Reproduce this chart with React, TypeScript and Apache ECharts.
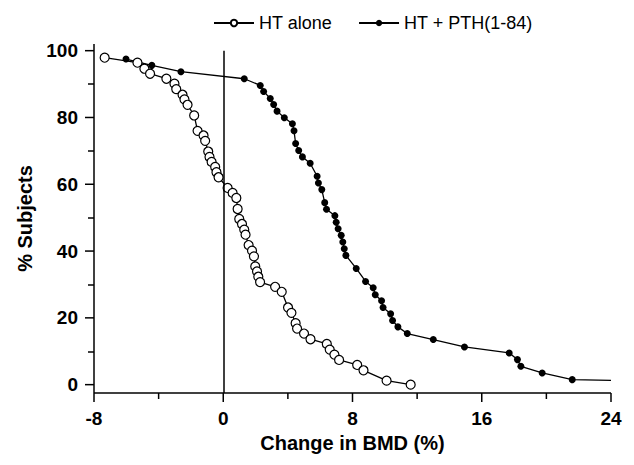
import React, { useEffect, useRef } from "react";
import * as echarts from "echarts";

const htAloneX = [
  -7.34, -5.31, -4.88, -4.53, -3.52, -3.02, -2.91, -2.52, -2.4, -2.21, -1.8, -1.59, -1.22, -1.12,
  -0.93, -0.85, -0.72, -0.5, -0.42, -0.29, 0.27, 0.58, 0.81, 0.89, 0.99, 1.16, 1.3, 1.38, 1.57,
  1.78, 1.9, 1.98, 2.09, 2.17, 2.28, 3.21, 3.62, 4.01, 4.22, 4.48, 4.57, 5.0, 5.4, 6.41, 6.59,
  6.88, 7.17, 8.29, 8.68, 10.11, 11.6,
];
const htAloneY = [
  97.9, 96.4, 94.6, 93.1, 91.6, 90.1, 88.5, 86.8, 85.4, 83.8, 80.6, 76.0, 74.6, 73.0, 69.8, 68.2,
  66.7, 65.2, 63.6, 62.1, 58.9, 57.4, 55.9, 52.6, 49.6, 48.1, 46.4, 44.9, 41.8, 40.1, 38.4, 35.4,
  33.9, 32.3, 30.7, 29.3, 27.8, 23.1, 21.5, 18.4, 16.8, 15.3, 13.6, 12.2, 10.5, 9.0, 7.4, 5.9,
  4.3, 1.2, 0,
];
const htPthX = [
  -6.02, -4.42, -2.62, 1.3, 2.29, 2.5, 2.91, 3.12, 3.33, 3.78, 4.28, 4.38, 4.48, 4.67, 4.9, 5.38,
  5.81, 5.89, 6.1, 6.28, 6.39, 6.91, 6.99, 7.11, 7.3, 7.4, 7.49, 7.59, 8.23, 8.81, 9.28, 9.41,
  9.8, 9.89, 10.36, 10.48, 10.81, 11.39, 13.0, 14.93, 17.7, 18.21, 18.42, 19.74, 21.6,
];
const htPthY = [
  97.5, 95.6, 93.7, 91.6, 89.6, 87.8, 85.7, 83.9, 81.9, 79.9, 78.1, 76.0, 72.2, 70.1, 68.2, 66.3,
  62.4, 60.4, 58.4, 54.5, 52.5, 50.6, 48.6, 46.7, 44.7, 42.7, 40.7, 38.7, 34.8, 30.9, 29.0, 26.9,
  25.1, 23.1, 21.2, 19.2, 17.3, 15.3, 13.5, 11.3, 9.5, 7.5, 5.5, 3.5, 1.5,
];
const htPthTail = [24, 1.3];

const seriesNames = ["HT alone", "HT + PTH(1-84)"];
const xRange = [-8, 24];
const yRange = [-2.5, 102];
const xMajorTicks = [-8, 0, 8, 16, 24];
const xMinorTicks = [-4, 4, 12, 20];
const yLabelValues = [0, 20, 40, 60, 80, 100];
const yMinorValues = [10, 30, 50, 70, 90];
const zeroLineTop = 100;
const xTitle = "Change in BMD (%)";
const yTitle = "% Subjects";

const FONT = '"Liberation Sans", Arial, sans-serif';

export default function App() {
  const ref = useRef<HTMLDivElement>(null);
  useEffect(() => {
    if (!ref.current) return;
    const chart = echarts.init(ref.current, null, { renderer: "svg" });
    const tickStyle = { color: "#000", width: 1.5 };
    const openData = htAloneX.map((x, i) => [x, htAloneY[i]]);
    const filledData: any[] = htPthX.map((x, i) => [x, htPthY[i]]);
    filledData.push({ value: htPthTail, symbol: "none" });
    const labelStyle = { color: "#000", fontSize: 19, fontWeight: "bold", fontFamily: FONT };
    const nameStyle = { color: "#000", fontSize: 20, fontWeight: "bold", fontFamily: FONT };
    chart.setOption({
      animation: false,
      backgroundColor: "#fff",
      textStyle: { fontFamily: FONT },
      legend: {
        left: 208,
        top: 9,
        itemWidth: 40,
        itemHeight: 8,
        itemGap: 26,
        textStyle: { fontSize: 18, color: "#000", fontFamily: FONT },
        data: seriesNames,
      },
      grid: { left: 94, right: 23, top: 44, bottom: 72 },
      xAxis: {
        type: "value",
        min: xRange[0],
        max: xRange[1],
        interval: 8,
        position: "bottom",
        axisLine: { show: false, onZero: false },
        axisTick: { show: false },
        splitLine: { show: false },
        axisLabel: { margin: 16, ...labelStyle },
        name: xTitle,
        nameLocation: "middle",
        nameGap: 40,
        nameTextStyle: nameStyle,
      },
      yAxis: [
        {
          type: "value",
          min: yRange[0],
          max: yRange[1],
          position: "left",
          axisLine: { show: false, onZero: false },
          axisTick: { show: false },
          axisLabel: { margin: 16, ...labelStyle, customValues: yLabelValues },
          splitLine: { show: false },
          name: yTitle,
          nameLocation: "middle",
          nameRotate: 90,
          nameGap: 58,
          nameTextStyle: nameStyle,
        },
        {
          type: "value",
          min: yRange[0],
          max: yRange[1],
          position: "left",
          offset: 0,
          axisLine: { show: false, onZero: false },
          axisTick: { show: true, length: 6, lineStyle: tickStyle, customValues: yMinorValues },
          axisLabel: { show: false },
          splitLine: { show: false },
        },
      ],
      series: [
        {
          name: seriesNames[1],
          type: "line",
          data: filledData,
          symbol: "circle",
          symbolSize: 7,
          itemStyle: { color: "#000" },
          lineStyle: { color: "#000", width: 1.3 },
          markLine: {
            silent: true,
            symbol: "none",
            label: { show: false },
            lineStyle: { color: "#000", width: 1.5, type: "solid" },
            data: [[{ coord: [0, yRange[0]] }, { coord: [0, zeroLineTop] }]],
          },
        },
        {
          name: seriesNames[0],
          type: "line",
          data: openData,
          symbol: "circle",
          symbolSize: 9,
          itemStyle: { color: "#fff", borderColor: "#000", borderWidth: 1.2 },
          lineStyle: { color: "#000", width: 1.3 },
        },
      ],
    });

    const px = (x: number, y: number) =>
      chart.convertToPixel({ xAxisIndex: 0, yAxisIndex: 0 }, [x, y]) as number[];
    const seg = (a: number[], b: number[]) => ({
      type: "line",
      silent: true,
      z: 100,
      shape: { x1: a[0], y1: a[1], x2: b[0], y2: b[1] },
      style: { stroke: "#000", lineWidth: 1.5 },
    });
    const origin = px(xRange[0], yRange[0]);
    const elements: any[] = [
      seg(origin, px(xRange[1], yRange[0])),
      seg(origin, px(xRange[0], yRange[1])),
    ];
    xMajorTicks.forEach((v) => {
      const p = px(v, yRange[0]);
      elements.push(seg(p, [p[0], p[1] + 9]));
    });
    xMinorTicks.forEach((v) => {
      const p = px(v, yRange[0]);
      elements.push(seg(p, [p[0], p[1] + 6]));
    });
    yLabelValues.forEach((v) => {
      const p = px(xRange[0], v);
      elements.push(seg([p[0] - 9, p[1]], p));
    });
    chart.setOption({ graphic: { elements } });
    return () => chart.dispose();
  }, []);
  return <div ref={ref} style={{ position: "fixed", left: 0, top: 0, width: 634, height: 465 }} />;
}
